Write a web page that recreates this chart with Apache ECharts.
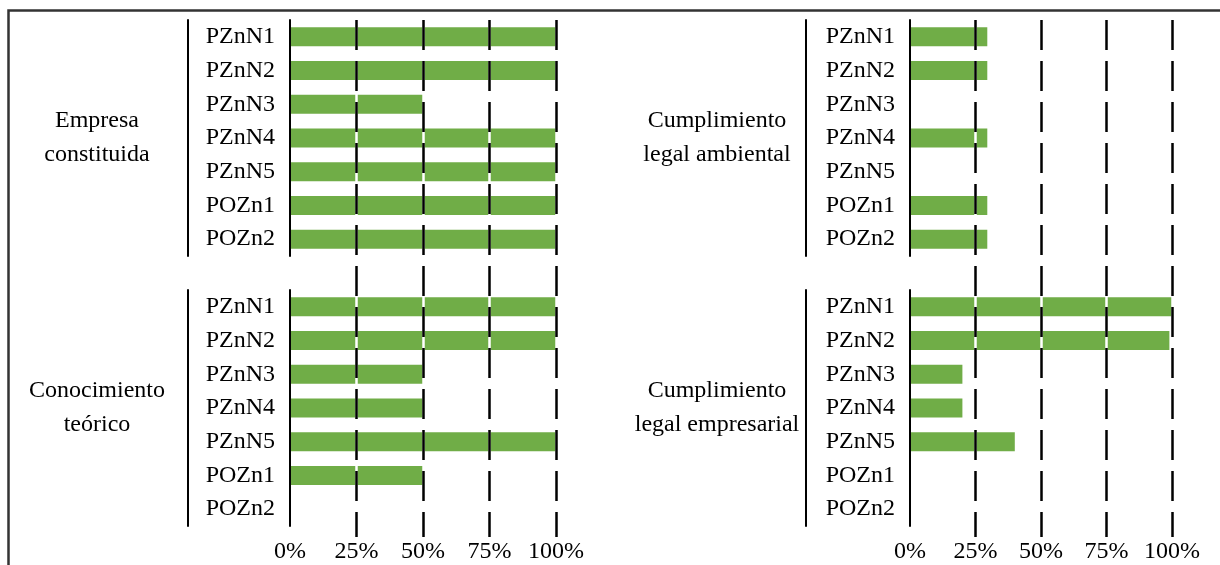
<!DOCTYPE html>
<html>
<head>
<meta charset="utf-8">
<script src="https://cdn.jsdelivr.net/npm/echarts@6/dist/echarts.min.js"></script>
<style>
  html, body { margin: 0; padding: 0; background: #fff; }
  #main { width: 1220px; height: 565px; }
</style>
</head>
<body>
<div id="main"></div>
<script>
// datos
var categorias = ['PZnN1', 'PZnN2', 'PZnN3', 'PZnN4', 'PZnN5', 'POZn1', 'POZn2'];
var empresaConstituida = [100, 100, 50, 100, 100, 100, 100];
var conocimientoTeorico = [100, 100, 50, 50, 100, 50, 0];
var legalAmbiental = [29.5, 29.5, 0, 29.5, 0, 29.5, 29.5];
var legalEmpresarial = [100, 99, 20, 20, 40, 0, 0];
var ticksX = [0, 25, 50, 75, 100];
var grupos = ['Empresa\nconstituida', 'Conocimiento\nteórico', 'Cumplimiento\nlegal ambiental', 'Cumplimiento\nlegal empresarial'];

var fuente = 'Liberation Serif';
var verde = '#70AD47';

// paneles: [left, top, width, offset linea de grupo, centro etiqueta]
var paneles = [
  { left: 290, top: 20, width: 266, offset: 102, cx: 97, data: empresaConstituida },
  { left: 290, top: 290, width: 266, offset: 102, cx: 97, data: conocimientoTeorico },
  { left: 910, top: 20, width: 262, offset: 104, cx: 717, data: legalAmbiental },
  { left: 910, top: 290, width: 262, offset: 104, cx: 717, data: legalEmpresarial }
];
var altoPanel = 236;

var grid = [], xAxis = [], yAxis = [], series = [], title = [];

paneles.forEach(function (p, i) {
  grid.push({ left: p.left, top: p.top, width: p.width, height: altoPanel });
  xAxis.push({ gridIndex: i, type: 'value', min: 0, max: 100, show: false });
  series.push({
    type: 'bar', xAxisIndex: i, yAxisIndex: i, data: p.data,
    barWidth: 19, itemStyle: { color: verde }, z: 2, silent: true
  });
  title.push({
    text: grupos[i], left: p.cx, top: p.top + altoPanel / 2 - 34, textAlign: 'center', padding: 0,
    textStyle: { fontFamily: fuente, fontSize: 24, fontWeight: 'normal', color: '#000', lineHeight: 34 }
  });
});
// eje principal (0%) con etiquetas
paneles.forEach(function (p, i) {
  yAxis.push({
    gridIndex: i, type: 'category', inverse: true, data: categorias, z: 6,
    axisLine: { lineStyle: { color: '#000', width: 2 } },
    axisTick: { show: false },
    axisLabel: { fontFamily: fuente, fontSize: 24, color: '#000', margin: 15 }
  });
});
// linea de grupo
paneles.forEach(function (p, i) {
  yAxis.push({
    gridIndex: i, type: 'category', inverse: true, data: categorias, offset: p.offset, position: 'left',
    axisLine: { lineStyle: { color: '#000', width: 2 } },
    axisTick: { show: false }, axisLabel: { show: false }
  });
});

// rejilla continua por columna
[{ left: 290, width: 266 }, { left: 910, width: 262 }].forEach(function (c, k) {
  var gi = 4 + k;
  grid.push({ left: c.left, width: c.width, top: 20, height: 517 });
  yAxis.push({ gridIndex: gi, type: 'value', show: false });
  xAxis.push({
    gridIndex: gi, type: 'value', position: 'bottom', min: 0, max: 100, interval: 25, z: 3,
    axisLine: { show: false }, axisTick: { show: false }, axisLabel: { show: false },
    splitLine: { show: true, lineStyle: { color: ['transparent', '#fff', '#fff', '#fff', '#fff'], width: 2.5 } }
  });
  xAxis.push({
    gridIndex: gi, type: 'value', position: 'bottom', min: 0, max: 100, interval: 25, z: 4,
    axisLine: { show: false }, axisTick: { show: false },
    axisLabel: {
      fontFamily: fuente, fontSize: 24, color: '#000', margin: 3,
      formatter: function (v) { return ticksX.indexOf(v) >= 0 ? v + '%' : ''; }
    },
    splitLine: { show: true, lineStyle: { color: ['transparent', '#000', '#000', '#000', '#000'], width: 2.5, type: [30, 11] } }
  });
});

var option = {
  animation: false,
  backgroundColor: '#fff',
  title: title,
  grid: grid,
  xAxis: xAxis,
  yAxis: yAxis,
  series: series,
  graphic: [{
    type: 'rect', silent: true,
    shape: { x: 8.5, y: 10.5, width: 1400, height: 800 },
    style: { fill: 'none', stroke: '#333', lineWidth: 2.5 }
  }]
};

var myChart = echarts.init(document.getElementById('main'));
myChart.setOption(option);
</script>
</body>
</html>
